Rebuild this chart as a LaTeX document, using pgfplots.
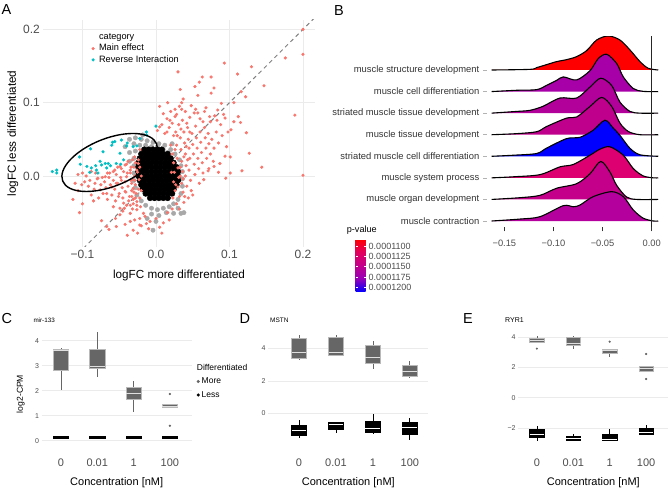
\documentclass[border=0pt]{standalone}
\usepackage{fontspec}
\setmainfont{Liberation Sans}
\usepackage{pgfplots}
\pgfplotsset{compat=1.18}
\usepackage{pgfplotstable}
\usepgfplotslibrary{statistics}

\definecolor{mainred}{HTML}{F8766D}
\definecolor{revcyan}{HTML}{00BFC4}
\definecolor{gridc}{HTML}{EBEBEB}
\definecolor{tickc}{HTML}{4D4D4D}
\definecolor{moreg}{HTML}{666666}
\definecolor{haloc}{HTML}{A8A8A8}
\definecolor{rA}{HTML}{FF0000}
\definecolor{rB}{HTML}{A800A8}
\definecolor{rC}{HTML}{B2009A}
\definecolor{rD}{HTML}{BE008C}
\definecolor{rE}{HTML}{0000FF}
\definecolor{rF}{HTML}{DC0070}
\definecolor{rG}{HTML}{C4008A}
\definecolor{rH}{HTML}{B4009C}

\newcommand{\fs}[1]{\fontsize{#1}{#1}\selectfont}

\pgfplotsset{
  panel/.style={scale only axis, anchor=south west, axis line style={draw=none},
    /pgf/number format/assume math mode=true},
  morebox/.style={color=moreg, line width=0.7pt, mark=*, mark size=0.7pt,
    boxplot/draw direction=y,
    boxplot/every box/.style={fill=moreg, draw=gray!55, line width=0.6pt},
    boxplot/every median/.style={draw=gray!25, line width=1pt},
    boxplot/whisker extend=0},
  lessbox/.style={color=black, line width=0.7pt, mark=*, mark size=0.7pt,
    boxplot/draw direction=y,
    boxplot/every box/.style={fill=black, draw=black, line width=0.6pt},
    boxplot/every median/.style={draw=white, line width=0.9pt},
    boxplot/whisker extend=0},
  boxaxis/.style={panel, tick style={draw=none}, ymajorgrids, major grid style={gridc, line width=0.7pt},
    xtick={1,2,3,4}, xticklabels={0,0.01,1,100},
    xticklabel style={font=\fs{11}, text=tickc, anchor=base, inner sep=0pt, yshift=-19.8pt},
    yticklabel style={font=\fs{7}, text=tickc, anchor=east, inner sep=0pt, xshift=-2.5pt},
    xlabel={Concentration [nM]},
    xlabel style={font=\fs{11}, at={(axis description cs:0.5,-0.3333)}, anchor=base}},
}

% ---------------- Panel A data ----------------
% dense core of non-significant genes
\pgfplotstableread[row sep=\\]{x y\\
-0.016 0.036\\ -0.010 0.036\\ -0.004 0.036\\ 0.002 0.036\\ 0.008 0.036\\
-0.020 0.030\\ -0.014 0.030\\ -0.008 0.030\\ -0.002 0.030\\ 0.004 0.030\\ 0.010 0.030\\ 0.016 0.030\\
-0.022 0.024\\ -0.016 0.024\\ -0.010 0.024\\ -0.004 0.024\\ 0.002 0.024\\ 0.008 0.024\\ 0.014 0.024\\ 0.020 0.024\\
-0.024 0.018\\ -0.018 0.018\\ -0.012 0.018\\ -0.006 0.018\\ 0.000 0.018\\ 0.006 0.018\\ 0.012 0.018\\ 0.018 0.018\\ 0.024 0.018\\
-0.024 0.012\\ -0.018 0.012\\ -0.012 0.012\\ -0.006 0.012\\ 0.000 0.012\\ 0.006 0.012\\ 0.012 0.012\\ 0.018 0.012\\ 0.024 0.012\\ 0.028 0.012\\
-0.024 0.006\\ -0.018 0.006\\ -0.012 0.006\\ -0.006 0.006\\ 0.000 0.006\\ 0.006 0.006\\ 0.012 0.006\\ 0.018 0.006\\ 0.024 0.006\\ 0.030 0.006\\
-0.024 0.000\\ -0.018 0.000\\ -0.012 0.000\\ -0.006 0.000\\ 0.000 0.000\\ 0.006 0.000\\ 0.012 0.000\\ 0.018 0.000\\ 0.024 0.000\\ 0.030 0.000\\
-0.022 -0.006\\ -0.016 -0.006\\ -0.010 -0.006\\ -0.004 -0.006\\ 0.002 -0.006\\ 0.008 -0.006\\ 0.014 -0.006\\ 0.020 -0.006\\ 0.026 -0.006\\ 0.030 -0.006\\
-0.020 -0.012\\ -0.014 -0.012\\ -0.008 -0.012\\ -0.002 -0.012\\ 0.004 -0.012\\ 0.010 -0.012\\ 0.016 -0.012\\ 0.022 -0.012\\ 0.028 -0.012\\
-0.018 -0.018\\ -0.012 -0.018\\ -0.006 -0.018\\ 0.000 -0.018\\ 0.006 -0.018\\ 0.012 -0.018\\ 0.018 -0.018\\ 0.024 -0.018\\
-0.014 -0.024\\ -0.008 -0.024\\ -0.002 -0.024\\ 0.004 -0.024\\ 0.010 -0.024\\ 0.016 -0.024\\ 0.022 -0.024\\
-0.008 -0.030\\ -0.002 -0.030\\ 0.004 -0.030\\ 0.010 -0.030\\ 0.016 -0.030\\
}\coreT

% grey fringe of the cloud
\pgfplotstableread[row sep=\\]{x y\\
-0.036 0.050\\ -0.028 0.052\\ -0.020 0.050\\ -0.012 0.048\\ -0.004 0.046\\ 0.004 0.044\\ 0.012 0.042\\ 0.020 0.036\\
-0.030 0.044\\ -0.022 0.042\\ -0.014 0.042\\ -0.006 0.040\\ 0.002 0.040\\ 0.010 0.036\\ 0.016 0.032\\
0.026 0.030\\ 0.032 0.022\\ 0.034 0.014\\ 0.036 0.006\\ 0.036 -0.004\\ 0.036 -0.014\\ 0.034 -0.024\\ 0.030 -0.032\\
0.024 -0.038\\ 0.018 -0.042\\ 0.010 -0.044\\ 0.002 -0.046\\ -0.006 -0.044\\ -0.014 -0.040\\ 0.014 -0.050\\
0.004 -0.054\\ -0.006 -0.052\\ 0.030 -0.044\\ 0.038 -0.050\\
-0.020 -0.034\\ -0.026 -0.026\\ -0.028 -0.016\\ -0.030 -0.006\\ -0.030 0.004\\ -0.030 0.014\\ -0.030 0.024\\
-0.028 0.034\\ -0.036 0.032\\ -0.036 0.020\\ -0.042 0.040\\ -0.004 -0.074\\ 0.024 -0.051\\ 0.034 -0.051\\
0.000 -0.062\\ -0.012 -0.058\\ 0.022 0.044\\ -0.018 0.056\\
}\haloT

\pgfplotstableread[row sep=\\]{x y\\
0.200 0.200\\ 0.200 0.166\\ 0.176 0.161\\ 0.093 0.154\\ 0.130 0.149\\ 0.030 0.142\\ 0.111 0.139\\ 0.075 0.135\\
0.063 0.135\\ 0.059 0.128\\ 0.147 0.123\\ 0.079 0.120\\ 0.053 0.122\\ 0.033 0.118\\ 0.116 0.115\\ 0.122 0.108\\
0.057 0.110\\ 0.075 0.113\\ 0.037 0.105\\ 0.035 0.100\\ 0.106 0.100\\ 0.089 0.099\\ 0.068 0.093\\ 0.054 0.091\\
0.035 0.091\\ 0.026 0.091\\ 0.189 0.083\\ 0.112 0.081\\ 0.094 0.079\\ 0.057 0.086\\ 0.073 0.081\\ 0.083 0.076\\
0.106 0.074\\ 0.115 0.073\\ 0.064 0.074\\ 0.200 0.001\\ 0.144 0.012\\ 0.127 0.031\\ 0.117 0.007\\ 0.101 0.004\\
0.095 -0.003\\ 0.101 0.026\\ 0.094 0.027\\ 0.123 0.059\\ 0.102 0.063\\ 0.085 0.005\\ 0.079 0.013\\ 0.071 0.007\\
0.087 0.017\\ 0.032 -0.045\\ 0.005 0.067\\ 0.019 0.076\\ 0.026 0.081\\ 0.015 0.060\\
-0.113 -0.032\\ -0.104 -0.050\\ -0.100 -0.038\\ -0.085 -0.034\\ -0.074 -0.061\\ -0.064 -0.073\\ -0.039 -0.081\\
-0.110 -0.010\\ -0.101 -0.012\\ -0.097 -0.008\\ -0.090 -0.006\\ -0.083 -0.010\\ -0.079 -0.003\\ -0.069 -0.001\\
-0.063 0.004\\ -0.056 0.008\\ -0.049 0.013\\ -0.042 0.015\\ -0.038 0.020\\ -0.076 -0.019\\ -0.067 -0.024\\
-0.060 -0.015\\ -0.054 -0.010\\ -0.047 -0.006\\ -0.040 -0.001\\ -0.035 0.004\\ -0.051 -0.028\\ -0.044 -0.037\\
-0.058 -0.042\\ -0.049 -0.053\\ -0.035 -0.051\\ -0.029 -0.060\\ -0.022 -0.058\\ -0.026 -0.046\\ -0.017 -0.051\\
-0.042 -0.021\\ -0.033 -0.028\\ -0.031 -0.017\\ -0.033 -0.010\\ -0.029 -0.006\\ -0.026 0.008\\ -0.024 0.017\\
-0.029 0.026\\ -0.022 0.036\\ -0.026 -0.035\\ -0.035 -0.040\\ -0.022 -0.067\\ -0.031 -0.074\\ -0.013 -0.065\\
-0.067 -0.069\\ -0.054 -0.069\\
0.022 0.030\\ 0.024 0.018\\ 0.025 0.005\\ 0.024 -0.008\\ 0.026 -0.020\\ 0.028 0.042\\ 0.029 0.024\\ 0.030 0.011\\
0.031 -0.002\\ 0.030 -0.015\\ 0.032 -0.028\\ 0.033 0.052\\ 0.034 0.036\\ 0.035 0.020\\ 0.036 0.006\\ 0.035 -0.010\\
0.037 -0.022\\ 0.038 0.060\\ 0.039 0.045\\ 0.040 0.030\\ 0.041 0.014\\ 0.040 0.000\\ 0.042 -0.014\\ 0.043 0.066\\
0.044 0.050\\ 0.045 0.038\\ 0.046 0.024\\ 0.045 0.008\\ 0.047 -0.006\\ 0.048 -0.020\\ 0.049 0.058\\ 0.050 0.043\\
0.051 0.030\\ 0.052 0.016\\ 0.053 0.002\\ 0.054 0.068\\ 0.055 0.052\\ 0.056 0.038\\ 0.057 0.024\\ 0.058 0.010\\
0.059 -0.010\\ 0.060 0.060\\ 0.061 0.046\\ 0.062 0.032\\ 0.063 0.018\\ 0.064 0.004\\ 0.066 0.066\\ 0.067 0.052\\
0.068 0.038\\ 0.069 0.024\\ 0.071 0.058\\ 0.072 0.044\\ 0.074 0.030\\ 0.076 0.050\\ 0.079 0.038\\ 0.082 0.060\\
0.085 0.045\\ 0.088 0.070\\ 0.090 0.055\\ 0.027 0.060\\ 0.031 0.070\\ 0.036 0.076\\ 0.046 0.080\\ 0.052 0.086\\
0.060 0.078\\ 0.066 0.088\\ 0.074 0.074\\ 0.080 0.082\\ 0.084 0.090\\ 0.092 0.084\\ 0.098 0.060\\ 0.096 0.040\\
0.078 0.020\\ 0.065 -0.005\\ 0.072 0.010\\ 0.044 -0.030\\ 0.038 -0.036\\ 0.050 -0.026\\ 0.028 -0.038\\ 0.022 -0.045\\
0.021 0.005\\ 0.023 -0.030\\ 0.020 0.042\\ 0.027 -0.012\\ 0.026 0.036\\ 0.033 0.000\\ 0.029 0.055\\
0.038 0.026\\ 0.033 0.012\\ 0.037 -0.004\\ 0.041 0.040\\ 0.043 0.022\\ 0.039 -0.028\\ 0.046 0.060\\
0.002 0.062\\ 0.008 0.070\\ 0.012 0.058\\ 0.015 0.078\\ 0.018 0.066\\ 0.020 0.088\\ 0.022 0.072\\ 0.024 0.055\\
0.028 0.084\\ 0.032 0.095\\ 0.034 0.064\\ 0.040 0.088\\ 0.042 0.072\\ 0.048 0.096\\ 0.010 0.085\\ 0.005 0.095\\
0.016 0.100\\
-0.022 -0.030\\ -0.024 -0.018\\ -0.023 -0.005\\ -0.025 0.005\\ -0.022 0.012\\ -0.026 -0.040\\ -0.027 -0.024\\
-0.028 -0.012\\ -0.029 0.000\\ -0.030 0.012\\ -0.031 -0.032\\ -0.032 -0.045\\ -0.033 -0.020\\ -0.034 -0.006\\
-0.035 0.008\\ -0.036 -0.028\\ -0.038 -0.014\\ -0.039 0.004\\ -0.040 -0.040\\ -0.041 -0.022\\ -0.042 -0.008\\
-0.044 0.006\\ -0.045 -0.030\\ -0.046 -0.016\\ -0.048 -0.002\\ -0.049 -0.044\\ -0.050 -0.024\\ -0.052 -0.010\\
-0.054 0.002\\ -0.055 -0.034\\ -0.056 -0.018\\ -0.058 -0.006\\ -0.060 -0.026\\ -0.062 -0.012\\ -0.064 -0.002\\
-0.066 -0.032\\ -0.068 -0.016\\ -0.070 -0.008\\ -0.072 -0.024\\ -0.075 -0.012\\ -0.078 -0.030\\ -0.080 -0.004\\
-0.084 -0.018\\ -0.088 -0.026\\ -0.092 -0.014\\ -0.095 0.000\\ -0.106 -0.020\\ -0.020 -0.020\\ -0.020 0.000\\
-0.021 -0.042\\ -0.024 0.022\\ -0.028 0.018\\ -0.032 0.022\\ -0.040 0.016\\ -0.047 0.010\\ -0.052 0.012\\
-0.058 0.006\\ -0.066 0.004\\ -0.073 -0.002\\ -0.082 0.004\\ -0.088 0.006\\ -0.100 0.004\\ -0.106 0.002\\
-0.031 -0.038\\ -0.028 -0.030\\ -0.030 -0.022\\ -0.032 -0.004\\ -0.034 0.012\\ -0.037 -0.034\\ -0.043 -0.044\\
-0.015 -0.055\\ -0.008 -0.062\\ 0.000 -0.058\\ 0.010 -0.064\\ 0.016 -0.050\\ -0.020 -0.068\\ -0.010 -0.072\\
0.005 -0.070\\ 0.018 -0.060\\ -0.035 -0.062\\ -0.042 -0.066\\ -0.045 -0.048\\ -0.055 -0.058\\ 0.008 -0.078\\
-0.025 -0.078\\
}\redT

\pgfplotstableread[row sep=\\]{x y\\
-0.141 0.006\\ -0.135 0.004\\ -0.135 0.008\\ -0.104 0.026\\ -0.103 0.016\\ -0.094 0.013\\ -0.089 0.037\\
-0.088 0.011\\ -0.082 0.014\\ -0.081 0.008\\ -0.076 0.020\\ -0.074 0.015\\ -0.072 0.033\\ -0.069 0.017\\
-0.065 0.017\\ -0.060 0.042\\ -0.059 0.046\\ -0.054 0.017\\ -0.049 0.031\\ -0.047 0.049\\ -0.044 0.022\\
-0.039 0.045\\ -0.031 0.040\\ -0.026 0.041\\ -0.022 0.051\\ -0.013 0.056\\ -0.090 0.005\\ -0.079 0.004\\
-0.067 0.011\\ -0.062 0.014\\ -0.048 0.016\\ 0.000 0.068\\ -0.013 0.060\\ -0.056 0.047\\ -0.040 0.041\\
}\cyanT

% ---------------- Panel B ridges (x, height in row units) ----------------
\pgfplotstableread[row sep=\\]{x h\\ -0.163 0\\ -0.1239 0.03\\ -0.1171 0.11\\ -0.1069 0.25\\ -0.0967 0.39\\ -0.0866 0.48\\ -0.0764 0.62\\ -0.0662 0.90\\ -0.056 1.39\\ -0.0442 1.58\\ -0.0323 1.39\\ -0.0221 0.93\\ -0.0119 0.39\\ -0.0035 0.08\\ 0.0067 0\\}\ridgeA
\pgfplotstableread[row sep=\\]{x h\\ -0.163 0\\ -0.1375 0.06\\ -0.117 0.09\\ -0.107 0.29\\ -0.0967 0.52\\ -0.090 0.68\\ -0.0764 0.54\\ -0.0628 0.97\\ -0.0544 1.53\\ -0.0458 1.73\\ -0.0356 1.30\\ -0.0289 0.68\\ -0.0187 0.14\\ -0.0086 0.01\\ 0.0067 0\\}\ridgeB
\pgfplotstableread[row sep=\\]{x h\\ -0.163 0\\ -0.1375 0.08\\ -0.124 0.13\\ -0.111 0.31\\ -0.0934 0.70\\ -0.0764 0.70\\ -0.0628 1.21\\ -0.0519 1.62\\ -0.0407 1.28\\ -0.0323 0.51\\ -0.0221 0.08\\ -0.0119 0\\ 0.0067 0\\}\ridgeC
\pgfplotstableread[row sep=\\]{x h\\ -0.163 0\\ -0.1375 0.05\\ -0.117 0.14\\ -0.107 0.38\\ -0.0866 0.77\\ -0.0764 0.82\\ -0.0628 1.31\\ -0.0509 1.73\\ -0.0407 1.31\\ -0.0323 0.54\\ -0.0238 0.15\\ -0.0119 0\\ 0.0067 0\\}\ridgeD
\pgfplotstableread[row sep=\\]{x h\\ -0.163 0\\ -0.1405 0.05\\ -0.117 0.13\\ -0.107 0.38\\ -0.0866 0.82\\ -0.073 0.88\\ -0.0598 1.20\\ -0.0476 1.67\\ -0.039 1.30\\ -0.0323 0.97\\ -0.0221 0.37\\ -0.0119 0.07\\ 0.0067 0\\}\ridgeE
\pgfplotstableread[row sep=\\]{x h\\ -0.163 0\\ -0.1405 0.05\\ -0.1137 0.15\\ -0.0934 0.51\\ -0.0798 0.62\\ -0.0628 1.05\\ -0.0526 1.33\\ -0.0425 1.44\\ -0.0289 1.05\\ -0.0187 0.43\\ -0.0086 0.09\\ 0.0016 0\\ 0.0067 0\\}\ridgeF
\pgfplotstableread[row sep=\\]{x h\\ -0.163 0\\ -0.1341 0.08\\ -0.1137 0.19\\ -0.0967 0.52\\ -0.0764 0.73\\ -0.0628 1.19\\ -0.0519 1.76\\ -0.0425 1.27\\ -0.0356 0.65\\ -0.0255 0.11\\ -0.0153 0\\ 0.0067 0\\}\ridgeG
\pgfplotstableread[row sep=\\]{x h\\ -0.163 0\\ -0.1341 0.09\\ -0.1137 0.20\\ -0.090 0.71\\ -0.0798 0.66\\ -0.073 0.74\\ -0.0595 1.13\\ -0.0407 1.36\\ -0.0289 1.13\\ -0.0187 0.51\\ -0.0086 0.13\\ 0.0016 0\\ 0.0067 0\\}\ridgeH

\newcommand{\ridge}[3]{%
  \addplot[fill=#2, draw=none, smooth] table[x=x, y expr=\thisrow{h}+#3] {#1} -- cycle;
  \addplot[black, line width=1.1pt, smooth] table[x=x, y expr=\thisrow{h}+#3] {#1};
}

\begin{document}
\begin{tikzpicture}
\path[use as bounding box] (0,0) rectangle (669pt,489pt);

% ================= Panel A =================
\begin{axis}[panel, tick style={draw=none}, at={(43pt,242pt)}, width=272pt, height=227pt,
  xmin=-0.1537, xmax=0.2164, ymin=-0.0969, ymax=0.2128,
  xtick={-0.1,0,0.1,0.2}, xticklabels={−0.1,0.0,0.1,0.2},
  ytick={0,0.1,0.2}, yticklabels={0.0,0.1,0.2},
  grid=major, major grid style={gridc, line width=0.8pt},
  xticklabel style={font=\fs{12}, text=tickc, anchor=base, inner sep=0pt, yshift=-12pt},
  yticklabel style={font=\fs{12}, text=tickc, anchor=east, inner sep=0pt, xshift=-3pt},
  xlabel={logFC more differentiated}, ylabel={logFC less differentiated},
  xlabel style={font=\fs{11.7}, at={(axis description cs:0.5,-0.1388)}, anchor=base},
  ylabel style={font=\fs{11.7}, at={(axis description cs:-0.0993,0.5)}, anchor=base},
  legend style={at={(axis description cs:0.1522,0.9471)}, anchor=north west, draw=none, fill=none,
    inner sep=0pt, row sep=1.1pt, column sep=4pt, font=\fs{9.2},
    nodes={inner sep=0.5pt, text height=7pt, text depth=2.2pt}},
  legend cell align=left,
]
\addplot[only marks, mark=*, mark size=2.2pt, color=haloc, forget plot] table {\haloT};
\addplot[only marks, mark=*, mark size=2.9pt, color=black, forget plot] table {\coreT};
\addplot[gray, line width=1pt, dash pattern=on 4pt off 3.5pt, forget plot] coordinates {(-0.2,-0.2) (0.25,0.25)};
\addlegendimage{empty legend}
\addlegendentry{category}
\addplot[only marks, mark=*, mark size=1.4pt, color=mainred] table {\redT};
\addlegendentry{Main effect}
\addplot[only marks, mark=*, mark size=1.4pt, color=revcyan] table {\cyanT};
\addlegendentry{Reverse Interaction}
\coordinate (ec) at (axis cs:-0.063,0.0184);
\end{axis}
\draw[black, line width=1.4pt, rotate around={21.5:(ec)}] (ec) ellipse [x radius=50.5pt, y radius=24pt];

% ================= Panel B =================
\begin{axis}[panel, at={(487pt,261.5pt)}, width=173pt, height=191pt,
  xmin=-0.1677, xmax=0.0085, ymin=0.699, ymax=9.553,
  xtick={-0.15,-0.1,-0.05,0}, xticklabels={−0.15,−0.10,−0.05,0.00},
  ytick={1,2,3,4,5,6,7,8},
  yticklabels={muscle contraction, muscle organ development, muscle system process,
    striated muscle cell differentiation, muscle tissue development,
    striated muscle tissue development, muscle cell differentiation, muscle structure development},
  tick align=outside, major tick length=4pt, xtick pos=lower, ytick pos=left,
  xtick style={draw=black!80, line width=0.9pt}, ytick style={draw=gray!60, line width=0.6pt},
  xticklabel style={font=\fs{9.3}, text=tickc, anchor=base, inner sep=0pt, yshift=-15.5pt},
  yticklabel style={font=\fs{9.4}, text=black!80, anchor=east, inner sep=0pt, xshift=-3.5pt},
  colormap={pv}{rgb255=(255,0,0) rgb255=(225,0,95) rgb255=(195,0,140) rgb255=(150,0,185) rgb255=(0,0,255)},
  colorbar, point meta min=1083, point meta max=1211,
  colorbar style={at={(parent axis.south west)}, anchor=north west, xshift=-140pt, yshift=-11.5pt,
    width=10pt, height=53pt, y dir=reverse,
    ytick={1100,1125,1150,1175,1200},
    yticklabels={0.0001100,0.0001125,0.0001150,0.0001175,0.0001200},
    yticklabel pos=right,
    yticklabel style={font=\fs{9}, text=tickc, anchor=west, inner sep=0pt, xshift=3pt},
    axis line style={draw=none}, ytick style={draw=white, line width=0.6pt},
    major tick length=2pt, tick align=inside, xtick=\empty},
]
\ridge{\ridgeA}{rA}{8}
\ridge{\ridgeB}{rB}{7}
\ridge{\ridgeC}{rC}{6}
\ridge{\ridgeD}{rD}{5}
\ridge{\ridgeE}{rE}{4}
\ridge{\ridgeF}{rF}{3}
\ridge{\ridgeG}{rG}{2}
\ridge{\ridgeH}{rH}{1}
\addplot[black!85, line width=1.1pt] coordinates {(0,0.699) (0,9.553)};
\end{axis}
\node[anchor=base west, font=\fs{9.1}, inner sep=0pt] at (346.7pt,256pt) {p-value};

% ================= Panel C =================
\begin{axis}[boxaxis, at={(41.7pt,42pt)}, width=150pt, height=117pt,
  xmin=0.47, xmax=4.6, ymin=-0.25, ymax=4.43, ytick={0,1,2,3,4},
  ylabel={log2-CPM},
  ylabel style={font=\fs{8.6}, at={(axis description cs:-0.1247,0.453)}, anchor=base},
  legend style={at={(axis description cs:1.0333,0.600)}, anchor=north west, draw=none, fill=none,
    inner sep=0pt, row sep=4.5pt, column sep=1.5pt, font=\fs{8.5},
    nodes={inner sep=0.5pt, text height=6.2pt, text depth=1.8pt}},
  legend cell align=left,
]
\addlegendimage{only marks, mark=*, mark size=1.4pt, color=moreg}
\addlegendentry{More}
\addlegendimage{only marks, mark=*, mark size=1.4pt, color=black}
\addlegendentry{Less}
\addplot[morebox, boxplot prepared={draw position=1, box extend=0.42, lower whisker=2.03, lower quartile=2.83, median=3.6, upper quartile=3.67, upper whisker=3.72}] coordinates {};
\addplot[morebox, boxplot prepared={draw position=2, box extend=0.42, lower whisker=2.53, lower quartile=2.89, median=2.97, upper quartile=3.65, upper whisker=4.33}] coordinates {};
\addplot[morebox, boxplot prepared={draw position=3, box extend=0.42, lower whisker=1.13, lower quartile=1.67, median=1.87, upper quartile=2.12, upper whisker=2.4}] coordinates {};
\addplot[morebox, boxplot prepared={draw position=4, box extend=0.42, lower whisker=1.32, lower quartile=1.32, median=1.38, upper quartile=1.45, upper whisker=1.46}] table[row sep=\\, y index=0] {v\\ 1.87\\ 0.6\\};
\addplot[lessbox, boxplot/every median/.style={draw=black}, boxplot prepared={draw position=1, box extend=0.42, lower whisker=0.09, lower quartile=0.10, median=0.13, upper quartile=0.17, upper whisker=0.19}] coordinates {};
\addplot[lessbox, boxplot/every median/.style={draw=black}, boxplot prepared={draw position=2, box extend=0.42, lower whisker=0.09, lower quartile=0.10, median=0.13, upper quartile=0.17, upper whisker=0.19}] coordinates {};
\addplot[lessbox, boxplot/every median/.style={draw=black}, boxplot prepared={draw position=3, box extend=0.42, lower whisker=0.09, lower quartile=0.10, median=0.13, upper quartile=0.17, upper whisker=0.19}] coordinates {};
\addplot[lessbox, boxplot/every median/.style={draw=black}, boxplot prepared={draw position=4, box extend=0.42, lower whisker=0.09, lower quartile=0.10, median=0.13, upper quartile=0.17, upper whisker=0.19}] coordinates {};
\end{axis}
\node[anchor=base west, font=\fs{8.5}, inner sep=0pt] at (196.7pt,118pt) {Differentiated};

% ================= Panel D =================
\begin{axis}[boxaxis, at={(268.3pt,42pt)}, width=160pt, height=117pt,
  xmin=0.17, xmax=4.5, ymin=-2.07, ymax=5.13, ytick={0,2,4}, yticklabels={0,2,4}]
\addplot[morebox, boxplot prepared={draw position=1, box extend=0.4, lower whisker=3.28, lower quartile=3.38, median=3.75, upper quartile=4.62, upper whisker=4.82}] coordinates {};
\addplot[morebox, boxplot prepared={draw position=2, box extend=0.4, lower whisker=3.59, lower quartile=3.59, median=3.75, upper quartile=4.66, upper whisker=4.82}] coordinates {};
\addplot[morebox, boxplot prepared={draw position=3, box extend=0.4, lower whisker=2.7, lower quartile=3.08, median=3.45, upper quartile=4.2, upper whisker=4.43}] coordinates {};
\addplot[morebox, boxplot prepared={draw position=4, box extend=0.4, lower whisker=2.2, lower quartile=2.3, median=2.6, upper quartile=2.95, upper whisker=3.22}] coordinates {};
\addplot[lessbox, boxplot prepared={draw position=1, box extend=0.4, lower whisker=-1.54, lower quartile=-1.37, median=-1.07, upper quartile=-0.72, upper whisker=-0.41}] coordinates {};
\addplot[lessbox, boxplot prepared={draw position=2, box extend=0.4, lower whisker=-1.23, lower quartile=-0.96, median=-0.68, upper quartile=-0.53, upper whisker=-0.53}] coordinates {};
\addplot[lessbox, boxplot prepared={draw position=3, box extend=0.4, lower whisker=-1.27, lower quartile=-1.15, median=-0.9, upper quartile=-0.47, upper whisker=-0.04}] coordinates {};
\addplot[lessbox, boxplot prepared={draw position=4, box extend=0.4, lower whisker=-1.64, lower quartile=-1.31, median=-0.86, upper quartile=-0.55, upper whisker=-0.29}] coordinates {};
\end{axis}

% ================= Panel E =================
\begin{axis}[boxaxis, at={(518.3pt,42pt)}, width=150pt, height=117pt,
  xmin=0.49, xmax=4.61, ymin=-3.25, ymax=4.46, ytick={-2,0,2,4}, yticklabels={−2,0,2,4}]
\addplot[morebox, boxplot prepared={draw position=1, box extend=0.4, lower whisker=3.63, lower quartile=3.63, median=3.8, upper quartile=3.91, upper whisker=4.07}] table[row sep=\\, y index=0] {v\\ 3.23\\};
\addplot[morebox, boxplot prepared={draw position=2, box extend=0.4, lower whisker=3.19, lower quartile=3.47, median=3.58, upper quartile=4.0, upper whisker=4.07}] coordinates {};
\addplot[morebox, boxplot prepared={draw position=3, box extend=0.4, lower whisker=2.66, lower quartile=2.92, median=3.08, upper quartile=3.21, upper whisker=3.21}] table[row sep=\\, y index=0] {v\\ 3.69\\};
\addplot[morebox, boxplot prepared={draw position=4, box extend=0.4, lower whisker=1.76, lower quartile=1.76, median=1.93, upper quartile=2.04, upper whisker=2.04}] table[row sep=\\, y index=0] {v\\ 2.88\\ 1.23\\};
\addplot[lessbox, boxplot prepared={draw position=1, box extend=0.4, lower whisker=-2.88, lower quartile=-2.64, median=-2.4, upper quartile=-2.09, upper whisker=-1.85}] coordinates {};
\addplot[lessbox, boxplot prepared={draw position=2, box extend=0.4, lower whisker=-2.79, lower quartile=-2.79, median=-2.7, upper quartile=-2.55, upper whisker=-2.4}] coordinates {};
\addplot[lessbox, boxplot prepared={draw position=3, box extend=0.4, lower whisker=-2.79, lower quartile=-2.79, median=-2.75, upper quartile=-2.42, upper whisker=-2.07}] coordinates {};
\addplot[lessbox, boxplot prepared={draw position=4, box extend=0.4, lower whisker=-2.45, lower quartile=-2.4, median=-2.29, upper quartile=-2.02, upper whisker=-1.8}] coordinates {};
\end{axis}

% ================= titles & panel letters =================
\node[anchor=base west, font=\fs{6.3}, inner sep=0pt] at (33.3pt,166.5pt) {mir-133};
\node[anchor=base west, font=\fs{6.5}, inner sep=0pt] at (270pt,166.5pt) {MSTN};
\node[anchor=base west, font=\fs{7}, inner sep=0pt] at (505pt,166.5pt) {RYR1};
\node[anchor=base west, font=\fs{14.5}, inner sep=0pt] at (1.5pt,474pt) {A};
\node[anchor=base west, font=\fs{14.5}, inner sep=0pt] at (334pt,473pt) {B};
\node[anchor=base west, font=\fs{14.5}, inner sep=0pt] at (1.5pt,165pt) {C};
\node[anchor=base west, font=\fs{14.5}, inner sep=0pt] at (239.5pt,165pt) {D};
\node[anchor=base west, font=\fs{14.5}, inner sep=0pt] at (463pt,165pt) {E};
\end{tikzpicture}
\end{document}
